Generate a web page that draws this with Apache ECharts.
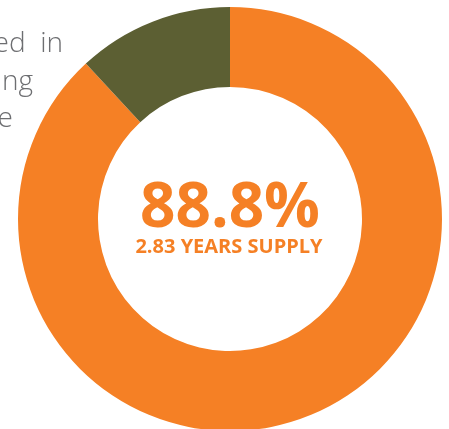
<!DOCTYPE html>
<html>
<head>
<meta charset="utf-8">
<script src="https://cdn.jsdelivr.net/npm/echarts@6/dist/echarts.min.js"></script>
<style>
html,body{margin:0;padding:0;background:#fff;}
#chart{width:449px;height:429px;}
</style>
</head>
<body>
<div id="chart"></div>
<script>
var categories = ['Supplied', 'Remaining'];
var values = [88.1, 11.9];
var colors = ['#F58025', '#5C5F33'];
var centerValue = '88.8%';
var centerLabel = '2.83 YEARS SUPPLY';
var sideText = ['ed  in', 'ing', 'e'];

var chart = echarts.init(document.getElementById('chart'), null, {renderer: 'canvas'});
var data = categories.map(function (c, i) {
  return {name: c, value: values[i], itemStyle: {color: colors[i]}};
});
var sideX = [63, 33, 13];
var sideY = [44, 82, 119];
var graphics = sideText.map(function (t, i) {
  return {
    type: 'text', x: sideX[i], y: sideY[i],
    style: {text: t, textAlign: 'right', textVerticalAlign: 'middle',
      font: '300 28px "Open Sans"', fill: '#6D6E71'}
  };
});
graphics.push({
  type: 'text', x: 230, y: 209,
  style: {text: centerValue, textAlign: 'center', textVerticalAlign: 'middle',
    font: 'bold 62px "Open Sans"', fill: '#F58025'}
});
graphics.push({
  type: 'text', x: 229, y: 247,
  style: {text: centerLabel, textAlign: 'center', textVerticalAlign: 'middle',
    font: 'bold 20px "Open Sans"', fill: '#F58025'}
});
chart.setOption({
  animation: false,
  series: [{
    type: 'pie',
    center: [230, 219],
    radius: [132, 212],
    startAngle: 90,
    clockwise: true,
    label: {show: false},
    labelLine: {show: false},
    emphasis: {disabled: true},
    silent: true,
    itemStyle: {borderWidth: 0},
    data: data
  }],
  graphic: graphics
});
</script>
</body>
</html>
